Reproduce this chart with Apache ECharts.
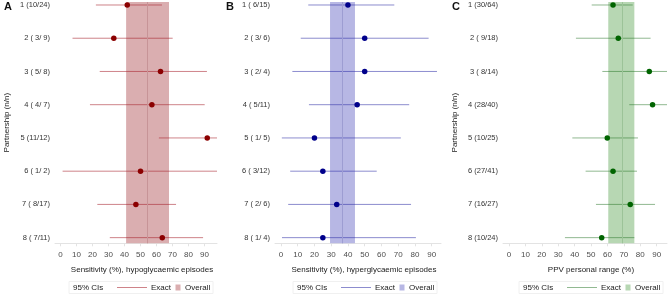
<!DOCTYPE html>
<html>
<head>
<meta charset="utf-8">
<script src="https://cdn.jsdelivr.net/npm/echarts@6/dist/echarts.min.js"></script>
<style>
  html, body { margin: 0; padding: 0; background: #fff; }
  #chart { width: 669px; height: 295px; }
</style>
</head>
<body>
<div id="chart"></div>
<script>
// rows (partnerships) 1..8
let rows = [1, 2, 3, 4, 5, 6, 7, 8]
let xTicks = [0, 10, 20, 30, 40, 50, 60, 70, 80, 90]

// A: sensitivity, hypoglycaemic episodes
let labelsA = ['1 (10/24)', '2 ( 3/ 9)', '3 ( 5/ 8)', '4 ( 4/ 7)', '5 (11/12)', '6 ( 1/ 2)', '7 ( 8/17)', '8 ( 7/11)']
let estA = [41.7, 33.3, 62.5, 57.1, 91.7, 50, 47.1, 63.6]
let loA = [22.1, 7.5, 24.5, 18.4, 61.5, 1.3, 23.0, 30.8]
let hiA = [63.4, 70.1, 91.5, 90.1, 99.8, 98.7, 72.2, 89.1]
let overallA = [41, 54.2, 67.8]

// B: sensitivity, hyperglycaemic episodes
let labelsB = ['1 ( 6/15)', '2 ( 3/ 6)', '3 ( 2/ 4)', '4 ( 5/11)', '5 ( 1/ 5)', '6 ( 3/12)', '7 ( 2/ 6)', '8 ( 1/ 4)']
let estB = [40, 50, 50, 45.5, 20, 25, 33.3, 25]
let loB = [16.3, 11.8, 6.8, 16.7, 0.5, 5.5, 4.3, 0.6]
let hiB = [67.7, 88.2, 93.2, 76.6, 71.6, 57.2, 77.7, 80.6]
let overallB = [29.3, 36.6, 44.2]

// C: PPV personal range
let labelsC = ['1 (30/64)', '2 ( 9/18)', '3 ( 8/14)', '4 (28/40)', '5 (10/25)', '6 (27/41)', '7 (16/27)', '8 (10/24)']
let estC = [63.4, 66.6, 85.5, 87.5, 59.9, 63.4, 73.9, 56.5]
let loC = [50.4, 40.8, 56.9, 73.3, 38.6, 46.7, 53, 34.1]
let hiC = [75.4, 86.3, 98, 98, 78.6, 78, 89, 76.4]
let overallC = [60.5, 69.3, 76.4]

let FONT = '"Liberation Sans", Arial, sans-serif'

let panels = [
  { letter: 'A', labels: labelsA, est: estA, lo: loA, hi: hiA, overall: overallA,
    title: 'Sensitivity (%), hypoglycaemic episodes', yName: 'Partnership (n/n)',
    left: 55, width: 162, min: -3.45, max: 97.8,
    dot: '#8b0000', line: 'rgba(165,30,40,0.55)', band: '#daaeb0', mid: '#c79497',
    leg: 73, box: [69, 213] },
  { letter: 'B', labels: labelsB, est: estB, lo: loB, hi: hiB, overall: overallB,
    title: 'Sensitivity (%), hyperglycaemic episodes', yName: '',
    left: 275, width: 166, min: -3.58, max: 95.6,
    dot: '#00008b', line: 'rgba(45,45,165,0.55)', band: '#b7b7e4', mid: '#9d9dd2',
    leg: 297, box: [293, 437] },
  { letter: 'C', labels: labelsC, est: estC, lo: loC, hi: hiC, overall: overallC,
    title: 'PPV personal range (%)', yName: 'Partnership (n/n)',
    left: 503, width: 164, min: -3.66, max: 96.3,
    dot: '#006400', line: 'rgba(35,115,35,0.5)', band: '#b7d7b3', mid: '#9cc398',
    leg: 523, box: [519, 663] }
]

let chart = echarts.init(document.getElementById('chart'))

let grids = [], xAxes = [], yAxes = [], series = [], graphics = []

panels.forEach(function (p, i) {
  grids.push({ left: p.left, width: p.width, top: 2, height: 241.3 })

  xAxes.push({
    type: 'value', gridIndex: i, min: p.min, max: p.max,
    axisLine: { show: true, lineStyle: { color: '#e3e3e3', width: 1 } },
    axisTick: { show: true, customValues: xTicks, length: 3, lineStyle: { color: '#e3e3e3' } },
    axisLabel: { customValues: xTicks, fontSize: 8, color: '#4d4d4d', margin: 7, fontFamily: FONT },
    splitLine: { show: false },
    name: p.title, nameLocation: 'middle', nameGap: 22,
    nameTextStyle: { fontSize: 8, color: '#222', fontFamily: FONT, padding: [0, 0, 0, 12] }
  })

  yAxes.push({
    type: 'value', gridIndex: i, inverse: true, min: 0.91, max: 8.17,
    axisLine: { show: false }, axisTick: { show: false }, splitLine: { show: false },
    axisLabel: {
      customValues: rows, fontSize: 7.5, color: '#333', margin: 5, fontFamily: FONT,
      formatter: function (v) { return p.labels[Math.round(v) - 1] }
    },
    name: p.yName, nameLocation: 'middle', nameGap: 44,
    nameTextStyle: { fontSize: 8, color: '#222', fontFamily: FONT }
  })

  // overall band + centre line
  series.push({
    type: 'line', xAxisIndex: i, yAxisIndex: i, data: [], silent: true, z: 1,
    markArea: {
      silent: true, itemStyle: { color: p.band, opacity: 1 },
      data: [[{ xAxis: p.overall[0] }, { xAxis: p.overall[2] }]]
    },
    markLine: {
      silent: true, symbol: 'none', label: { show: false },
      lineStyle: { color: p.mid, width: 1, type: 'solid', opacity: 1 },
      data: [{ xAxis: p.overall[1] }]
    }
  })

  // exact CIs
  series.push({
    type: 'custom', xAxisIndex: i, yAxisIndex: i, z: 2, silent: true,
    encode: { x: [0, 1], y: 2 },
    data: rows.map(function (r, k) { return [p.lo[k], p.hi[k], r] }),
    renderItem: function (params, api) {
      let y = api.value(2)
      let a = api.coord([api.value(0), y])
      let b = api.coord([api.value(1), y])
      let cs = params.coordSys
      return {
        type: 'line',
        shape: { x1: Math.max(a[0], cs.x), y1: a[1], x2: Math.min(b[0], cs.x + cs.width), y2: b[1] },
        style: { stroke: p.line, lineWidth: 1 }
      }
    }
  })

  // point estimates
  series.push({
    type: 'scatter', xAxisIndex: i, yAxisIndex: i, z: 3, silent: true,
    symbolSize: 5.5, itemStyle: { color: p.dot, opacity: 1 },
    data: rows.map(function (r, k) { return [p.est[k], r] })
  })

  // panel letter
  graphics.push({
    type: 'text', left: p.letter === 'A' ? 4 : (p.letter === 'B' ? 226 : 452), top: 1,
    style: { text: p.letter, font: 'bold 11px ' + FONT, fill: '#111' }
  })

  // legend
  let x0 = p.leg
  let yc = 287.5
  graphics.push({
    type: 'rect', shape: { x: p.box[0], y: 281.5, width: p.box[1] - p.box[0], height: 12 },
    style: { fill: 'none', stroke: '#f0f0f0', lineWidth: 1 }, silent: true
  })
  graphics.push({
    type: 'text', x: x0, y: yc,
    style: { text: '95% CIs', font: '8px ' + FONT, fill: '#222', verticalAlign: 'middle' }
  })
  graphics.push({
    type: 'line', shape: { x1: x0 + 44, y1: yc, x2: x0 + 74, y2: yc },
    style: { stroke: p.line, lineWidth: 1 }
  })
  graphics.push({
    type: 'text', x: x0 + 78, y: yc,
    style: { text: 'Exact', font: '8px ' + FONT, fill: '#222', verticalAlign: 'middle' }
  })
  graphics.push({
    type: 'rect', shape: { x: x0 + 102.5, y: yc - 3, width: 5, height: 6 },
    style: { fill: p.band }
  })
  graphics.push({
    type: 'text', x: x0 + 112, y: yc,
    style: { text: 'Overall', font: '8px ' + FONT, fill: '#222', verticalAlign: 'middle' }
  })
})

chart.setOption({
  backgroundColor: '#fff',
  animation: false,
  textStyle: { fontFamily: FONT },
  grid: grids,
  xAxis: xAxes,
  yAxis: yAxes,
  series: series,
  graphic: graphics
})
</script>
</body>
</html>
